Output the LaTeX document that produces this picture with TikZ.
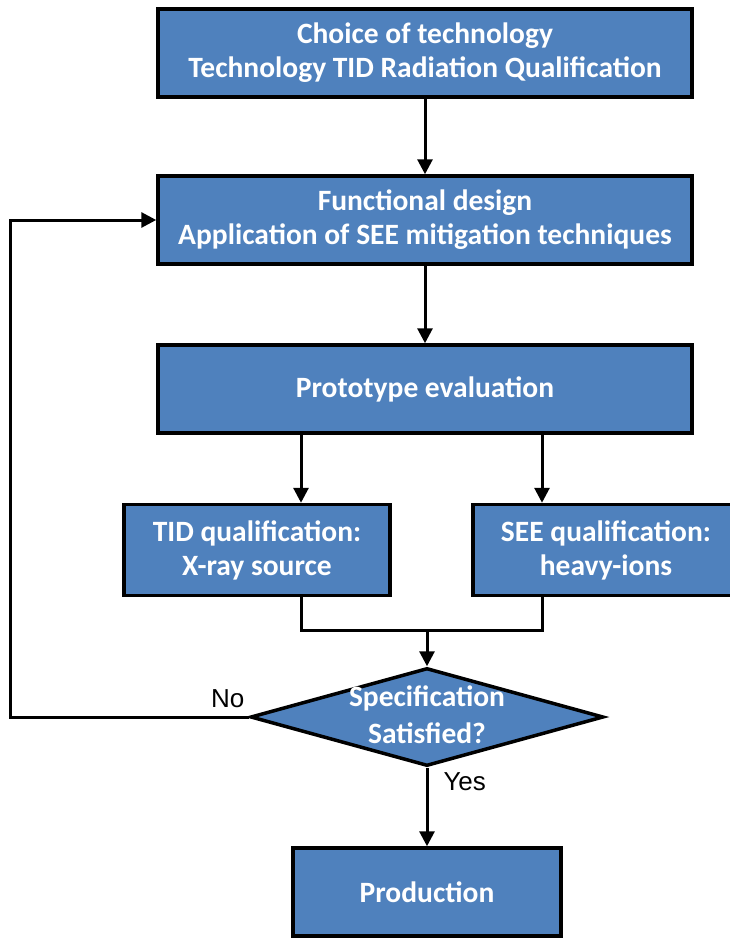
\documentclass[tikz,border=0pt]{standalone}
\usepackage{fontspec}
\setmainfont{Carlito}
\newfontfamily\labelfont{Liberation Sans}
\usetikzlibrary{positioning,shapes.geometric,arrows.meta}
\definecolor{boxblue}{RGB}{79,129,189}

\tikzset{
    block/.style={draw=black, line width=3.5pt, fill=boxblue, text=white,
        font=\bfseries\fontsize{29.5}{34}\selectfont, align=center,
        minimum width=534pt, minimum height=88pt},
    qualbox/.style={block, minimum width=266pt, minimum height=91pt},
    decision/.style={diamond, aspect=3.6, draw=black, line width=3.5pt, fill=boxblue, text=white,
        font=\bfseries\fontsize{29.5}{34}\selectfont, inner sep=0pt,
        minimum width=353pt, minimum height=98pt},
    line/.style={line width=3pt},
    arrow/.style={line, -{Triangle[length=15pt,width=15pt]}},
    answer/.style={font=\labelfont\fontsize{26}{30}\selectfont, inner sep=3pt}
}

\begin{document}
\begin{tikzpicture}[x=1pt, y=1pt, node distance=167pt]
    \useasboundingbox (0,-939) rectangle (730,0);
    \clip (0,-939) rectangle (730,0);

    % Technology choice
    \node[block] (tech) at (425,-53) {Choice of technology\\Technology TID Radiation Qualification};

    % Design
    \node[block, below of=tech] (design) {Functional design\\Application of SEE mitigation techniques};

    % Prototype
    \node[block, below of=design, node distance=169pt] (proto) {Prototype evaluation};

    % Qualification tests
    \node[qualbox, below of=proto, node distance=161pt, xshift=-168pt] (tid) {TID qualification:\\X-ray source};
    \node[qualbox, below of=proto, node distance=161pt, xshift=181pt] (see) {SEE qualification:\\heavy-ions};

    % Decision
    \node[decision, below of=proto, node distance=328pt, xshift=2pt] (check)
        {\raisebox{-15pt}{\smash{\begin{tabular}{@{}c@{}}Specification\\[3pt]Satisfied?\end{tabular}}}};
    \coordinate[above=36pt of check.north] (merge);

    % Production
    \node[block, minimum width=268pt, below of=check, node distance=175pt] (prod) {Production};

    % Connections
    \draw[arrow] (tech) -- (design);
    \draw[arrow] (design) -- (proto);
    \draw[arrow] ([xshift=44pt]tid.north |- proto.south) -- ([xshift=44pt]tid.north);
    \draw[arrow] ([xshift=-64pt]see.north |- proto.south) -- ([xshift=-64pt]see.north);
    \draw[line] ([xshift=44pt]tid.south) |- (merge) -| ([xshift=-64pt]see.south);
    \draw[arrow] (merge) -- (check.north);
    \draw[arrow] (check.west) node[answer, above left, yshift=5pt] {No} -- ++(-238,0) |- (design.west);
    \draw[arrow] (check.south) node[answer, below right, xshift=12pt] {Yes} -- (prod.north);
\end{tikzpicture}
\end{document}
